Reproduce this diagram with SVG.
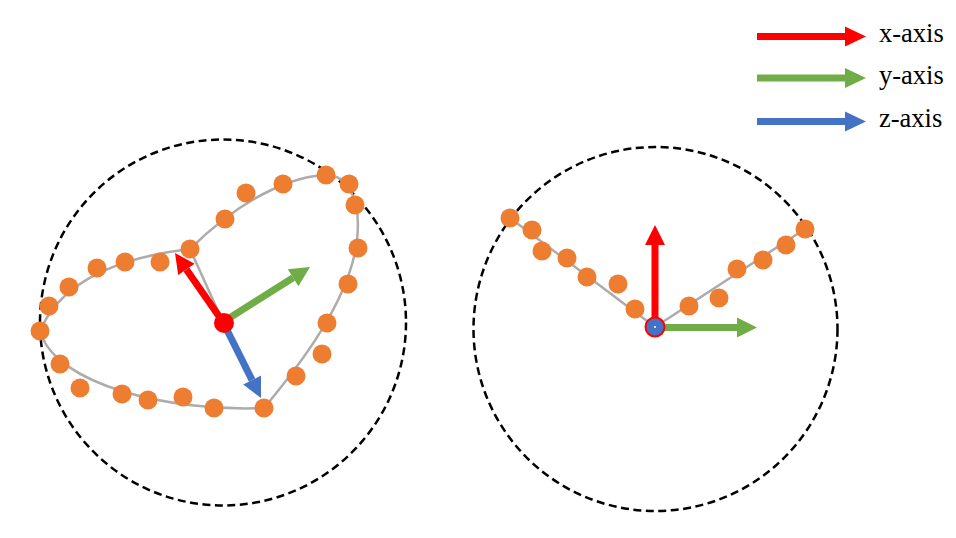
<svg xmlns="http://www.w3.org/2000/svg" width="956" height="538" viewBox="0 0 956 538">
<style>
.ring{fill:none;stroke:#000;stroke-width:2.5;stroke-dasharray:8 4.5}
.curve{fill:none;stroke:#AFABAB;stroke-width:2.5}
.dot{fill:#ED7D31}
.r{fill:#FF0000}.rs{stroke:#FF0000;stroke-width:7}
.g{fill:#70AD47}.gs{stroke:#70AD47;stroke-width:7}
.b{fill:#4472C4}.bs{stroke:#4472C4;stroke-width:7}
</style>
<g id="left-sphere">
<circle class="ring" cx="223" cy="322.5" r="183"/>
</g>
<g id="right-sphere">
<circle class="ring" cx="655.5" cy="329" r="182"/>
</g>
<g id="connectors">
<path class="curve" d="M190,249 C140,255 65,272 40,331 C55,385 170,412 264,408 C300,365 350,300 357,240 C362,195 345,175 326,175 C300,176 250,190 190,249 Z"/>
<line class="curve" x1="190" y1="249" x2="223" y2="322"/>
<polyline class="curve" points="510,218 655,327 805,229"/>
</g>
<g id="left-points">
<circle class="dot" cx="40" cy="331" r="9.5"/>
<circle class="dot" cx="49" cy="306" r="9.5"/>
<circle class="dot" cx="69" cy="287" r="9.5"/>
<circle class="dot" cx="97" cy="268" r="9.5"/>
<circle class="dot" cx="125" cy="262" r="9.5"/>
<circle class="dot" cx="160" cy="262" r="9.5"/>
<circle class="dot" cx="190" cy="249" r="9.5"/>
<circle class="dot" cx="225" cy="219" r="9.5"/>
<circle class="dot" cx="246" cy="193" r="9.5"/>
<circle class="dot" cx="283" cy="184" r="9.5"/>
<circle class="dot" cx="326" cy="175" r="9.5"/>
<circle class="dot" cx="349" cy="184" r="9.5"/>
<circle class="dot" cx="355" cy="205" r="9.5"/>
<circle class="dot" cx="358" cy="248" r="9.5"/>
<circle class="dot" cx="348" cy="284" r="9.5"/>
<circle class="dot" cx="327" cy="323" r="9.5"/>
<circle class="dot" cx="322" cy="354" r="9.5"/>
<circle class="dot" cx="296" cy="376" r="9.5"/>
<circle class="dot" cx="264" cy="408" r="9.5"/>
<circle class="dot" cx="214" cy="408" r="9.5"/>
<circle class="dot" cx="183" cy="397" r="9.5"/>
<circle class="dot" cx="148" cy="400" r="9.5"/>
<circle class="dot" cx="122" cy="394" r="9.5"/>
<circle class="dot" cx="80" cy="388" r="9.5"/>
<circle class="dot" cx="60" cy="364" r="9.5"/>
</g>
<g id="left-axes">
<line class="rs" x1="223" y1="322" x2="186.4" y2="269.4"/>
<polygon class="r" points="175,253 194.6,263.7 178.2,275.1"/>
<line class="gs" x1="223" y1="322" x2="293.1" y2="277.7"/>
<polygon class="g" points="310,267 298.4,286.2 287.8,269.3"/>
<line class="bs" x1="223" y1="322" x2="252.1" y2="380.1"/>
<polygon class="b" points="261,398 261,375.6 243.2,384.6"/>
<circle class="r" cx="224" cy="323" r="10"/>
</g>
<g id="right-points">
<circle class="dot" cx="510" cy="218" r="9.5"/>
<circle class="dot" cx="532" cy="230" r="9.5"/>
<circle class="dot" cx="542" cy="251" r="9.5"/>
<circle class="dot" cx="567" cy="258" r="9.5"/>
<circle class="dot" cx="587" cy="277" r="9.5"/>
<circle class="dot" cx="618" cy="284" r="9.5"/>
<circle class="dot" cx="635" cy="309" r="9.5"/>
<circle class="dot" cx="689" cy="306" r="9.5"/>
<circle class="dot" cx="719" cy="298" r="9.5"/>
<circle class="dot" cx="737" cy="269" r="9.5"/>
<circle class="dot" cx="763" cy="260" r="9.5"/>
<circle class="dot" cx="786" cy="245" r="9.5"/>
<circle class="dot" cx="805" cy="229" r="9.5"/>
</g>
<g id="right-axes">
<line class="rs" x1="655" y1="327" x2="655" y2="245"/>
<polygon class="r" points="655,225 665,245 645,245"/>
<line class="gs" x1="655" y1="327.5" x2="737" y2="327.5"/>
<polygon class="g" points="757,327.5 737,317.5 737,337.5"/>
<circle cx="655" cy="327" r="9.5" fill="#4472C4" stroke="#FF0000" stroke-width="2"/>
<circle cx="655" cy="327" r="1" fill="#fff"/>
</g>
<g id="legend" font-family="Liberation Serif, serif" font-size="26.5" fill="#000">
<line class="rs" x1="757" y1="36.5" x2="846" y2="36.5"/>
<polygon class="r" points="866,36.5 845,26.5 845,46.5"/>
<text x="879" y="42">x-axis</text>
<line class="gs" x1="757" y1="78" x2="846" y2="78"/>
<polygon class="g" points="866,78 845,68 845,88"/>
<text x="879" y="83.5">y-axis</text>
<line class="bs" x1="757" y1="121.5" x2="846" y2="121.5"/>
<polygon class="b" points="866,121.5 845,111.5 845,131.5"/>
<text x="879" y="126.5">z-axis</text>
</g>
</svg>
